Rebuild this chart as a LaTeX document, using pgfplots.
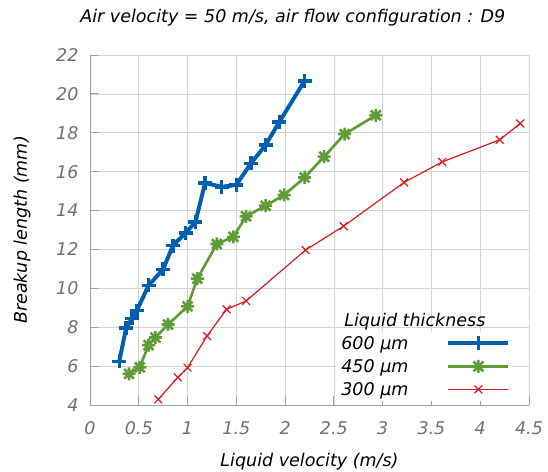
\documentclass[border=0pt]{standalone}
\usepackage{pgfplots}
\pgfplotsset{compat=1.18}
\usepackage{fontspec}
\setmainfont{DejaVu Sans}

\definecolor{cblue}{HTML}{0060AD}
\definecolor{cgreen}{HTML}{5E9C36}
\definecolor{cred}{HTML}{DD181F}
\definecolor{cgrid}{HTML}{D4D4D4}
\definecolor{caxis}{HTML}{A0A0A0}
\definecolor{ctick}{HTML}{707070}

% gnuplot style asterisk: plus and cross together
\pgfdeclareplotmark{gstar}{%
  \pgfpathmoveto{\pgfqpoint{-\pgfplotmarksize}{0pt}}\pgfpathlineto{\pgfqpoint{\pgfplotmarksize}{0pt}}%
  \pgfpathmoveto{\pgfqpoint{0pt}{-\pgfplotmarksize}}\pgfpathlineto{\pgfqpoint{0pt}{\pgfplotmarksize}}%
  \pgfpathmoveto{\pgfqpoint{-0.75\pgfplotmarksize}{-0.75\pgfplotmarksize}}\pgfpathlineto{\pgfqpoint{0.75\pgfplotmarksize}{0.75\pgfplotmarksize}}%
  \pgfpathmoveto{\pgfqpoint{-0.75\pgfplotmarksize}{0.75\pgfplotmarksize}}\pgfpathlineto{\pgfqpoint{0.75\pgfplotmarksize}{-0.75\pgfplotmarksize}}%
  \pgfusepathqstroke}

\newcommand{\chartfont}{\fontsize{17.5bp}{21bp}\selectfont\itshape}

\begin{document}
\begin{tikzpicture}
\useasboundingbox (-90bp,-67bp) rectangle (458bp,405bp);
\begin{axis}[
    scale only axis,
    width=439bp, height=350bp,
    xmin=0, xmax=4.5,
    ymin=4, ymax=22,
    xtick={0,0.5,...,4.5},
    ytick={4,6,...,22},
    axis x line=bottom, axis y line=left,
    axis line style={-, caxis, line width=1pt},
    tick align=inside,
    major tick length=9bp,
    tick style={caxis, line width=0.8pt},
    grid=major,
    major grid style={cgrid, line width=0.7pt},
    font=\chartfont,
    /pgf/number format/assume math mode=true,
    tick label style={ctick, font=\chartfont},
    xticklabel style={yshift=-13bp},
    yticklabel style={xshift=-8bp},
    xlabel={Liquid velocity (m/s)},
    ylabel={Breakup length (mm)},
    xlabel style={at={(axis description cs:0.5,0)}, anchor=center, yshift=-57bp},
    ylabel style={at={(axis description cs:0,0.5)}, anchor=center, yshift=68bp},
    title={Air velocity = 50 m/s, air flow configuration : D9},
    title style={at={(axis description cs:0.462,1)}, anchor=center, yshift=31bp, font=\chartfont},
    legend plot pos=right,
    legend cell align=right,
    legend style={at={(axis description cs:0.965,0.012)}, anchor=south east,
        fill=white, draw=none, row sep=4.5bp,
        font=\chartfont},
    legend image code/.code={%
        \path (0bp,0bp);
        \draw[mark repeat=2, mark phase=2] plot coordinates {(36bp,0bp) (66bp,0bp) (96bp,0bp)};},
]
\addplot[color=cblue, line width=4pt, mark=+, mark size=7bp, mark options={line width=3.5pt}] coordinates {
    (0.30, 6.25) (0.37, 7.95) (0.43, 8.45) (0.48, 8.85) (0.60, 10.15)
    (0.75, 10.98) (0.85, 12.2) (0.98, 12.85) (1.08, 13.4) (1.18, 15.42)
    (1.35, 15.22) (1.50, 15.32) (1.65, 16.43) (1.80, 17.37) (1.94, 18.55)
    (2.20, 20.67)
};
\addlegendentry{600 µm}
\addplot[color=cgreen, line width=2.6pt, mark=gstar, mark size=6.5bp, mark options={line width=2.6pt}] coordinates {
    (0.40, 5.6) (0.51, 5.94) (0.60, 7.08) (0.67, 7.47) (0.80, 8.14)
    (1.00, 9.07) (1.10, 10.5) (1.30, 12.28) (1.47, 12.65) (1.60, 13.7)
    (1.80, 14.25) (1.99, 14.8) (2.20, 15.7) (2.40, 16.77) (2.61, 17.93)
    (2.93, 18.9)
};
\addlegendentry{450 µm}
\addplot[color=cred, line width=1.2pt, mark=x, mark size=5.5bp, mark options={line width=1.2pt}] coordinates {
    (0.70, 4.29) (0.90, 5.42) (1.00, 5.92) (1.20, 7.55) (1.40, 8.92)
    (1.60, 9.35) (2.21, 11.97) (2.60, 13.2) (3.22, 15.45) (3.61, 16.5)
    (4.20, 17.64) (4.41, 18.48)
};
\addlegendentry{300 µm}
\node[anchor=center, font=\chartfont] at (axis description cs:0.740,0.237) {Liquid thickness};
\end{axis}
\end{tikzpicture}
\end{document}
